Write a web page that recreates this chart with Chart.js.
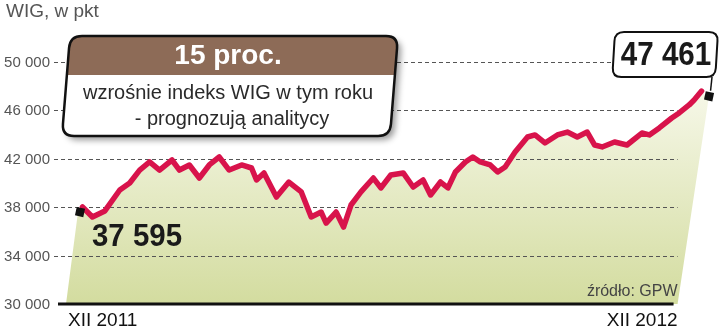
<!DOCTYPE html>
<html>
<head>
<meta charset="utf-8">
<script src="https://cdn.jsdelivr.net/npm/chart.js@4"></script>
<style>
  html, body { margin: 0; padding: 0; background: #fff; }
  #wrap { width: 720px; height: 334px; position: relative; }
</style>
</head>
<body>
<div id="wrap"><canvas id="chart" width="720" height="334"></canvas></div>
<script>
// WIG, XII 2011 - XII 2012

// session number (0 = start of XII 2011, 250 = XII 2012)
const days = [1, 5, 10, 16, 20, 24, 28, 32, 37, 40, 44, 48, 52, 56, 60, 65, 69, 71, 74, 79,
  84, 89, 93, 97, 99, 103, 106, 109, 113, 118, 121, 125, 130, 134, 138, 141, 145, 148, 151, 155,
  158, 161, 165, 168, 171, 175, 180, 183, 187, 192, 196, 200, 204, 207, 210, 215, 220, 226, 229, 233,
  238, 241, 245, 247, 250];
const wig = [38020, 37190, 37690, 39420, 40000, 41070, 41740, 41070, 41900, 41070,
  41490, 40410, 41490, 42150, 41070, 41490, 41240, 40250, 40830, 38840,
  40080, 39260, 37190, 37600, 36690, 37600, 36360, 38180, 39260, 40410,
  39590, 40660, 40830, 39670, 40250, 39010, 40080, 39590, 40910, 41740,
  42150, 41740, 41490, 40910, 41320, 42560, 43800, 43970, 43310, 43970,
  44210, 43800, 44210, 43140, 42980, 43390, 43140, 44130, 43970, 44550,
  45370, 45790, 46450, 46860, 47600];

const yTicks = [30000, 34000, 38000, 42000, 46000, 50000];
const xLabels = ["XII 2011", "XII 2012"];
const startValue = 37595;
const endValue = 47461;
const firstDay = 0;
const lastDay = 250;

function fmt(v) {
  return String(v).replace(/\B(?=(\d{3})+(?!\d))/g, ' ');
}

function roundRect(ctx, x, y, w, h, r) {
  ctx.beginPath();
  ctx.moveTo(x + r, y);
  ctx.lineTo(x + w - r, y);
  ctx.quadraticCurveTo(x + w, y, x + w, y + r);
  ctx.lineTo(x + w, y + h - r);
  ctx.quadraticCurveTo(x + w, y + h, x + w - r, y + h);
  ctx.lineTo(x + r, y + h);
  ctx.quadraticCurveTo(x, y + h, x, y + h - r);
  ctx.lineTo(x, y + r);
  ctx.quadraticCurveTo(x, y, x + r, y);
  ctx.closePath();
}

// background: green area, dashed grid, y labels, baseline
const backdrop = {
  id: 'backdrop',
  beforeDatasetsDraw(chart) {
    const ctx = chart.ctx;
    const xs = chart.scales.x, ys = chart.scales.y;
    const bottom = ys.getPixelForValue(30000);
    const pts = chart.getDatasetMeta(0).data;

    // green area under the line
    ctx.save();
    const grad = ctx.createLinearGradient(0, 80, 0, bottom);
    grad.addColorStop(0, '#f8f9ec');
    grad.addColorStop(1, '#d3dc9f');
    ctx.fillStyle = grad;
    ctx.beginPath();
    ctx.moveTo(xs.getPixelForValue(firstDay) - 14, bottom);
    ctx.lineTo(xs.getPixelForValue(firstDay) - 2, ys.getPixelForValue(startValue));
    pts.forEach(p => ctx.lineTo(p.x, p.y));
    ctx.lineTo(xs.getPixelForValue(lastDay) + 7, ys.getPixelForValue(endValue) + 6);
    ctx.lineTo(xs.getPixelForValue(lastDay) - 24, bottom);
    ctx.closePath();
    ctx.fill();
    ctx.restore();

    // dashed grid + labels
    ctx.save();
    ctx.strokeStyle = '#555';
    ctx.lineWidth = 1;
    ctx.setLineDash([4, 3]);
    ctx.font = '15px "Liberation Sans", Arial, sans-serif';
    ctx.fillStyle = '#555';
    ctx.textAlign = 'right';
    ctx.textBaseline = 'middle';
    yTicks.forEach(v => {
      const y = Math.round(ys.getPixelForValue(v)) + 0.5;
      if (v > 30000) {
        ctx.beginPath();
        ctx.moveTo(54, y);
        ctx.lineTo(xs.getPixelForValue(lastDay) - 24, y);
        ctx.stroke();
      }
      ctx.fillText(fmt(v), 50, y);
    });
    ctx.restore();

    // baseline
    ctx.save();
    ctx.strokeStyle = '#111';
    ctx.lineWidth = 3;
    ctx.beginPath();
    ctx.moveTo(58, bottom);
    ctx.lineTo(xs.getPixelForValue(lastDay) - 28, bottom);
    ctx.stroke();
    ctx.restore();
  }
};

// titles, boxes, value labels
const notes = {
  id: 'notes',
  afterDraw(chart) {
    const ctx = chart.ctx;
    const xs = chart.scales.x, ys = chart.scales.y;
    const bottom = ys.getPixelForValue(30000);

    ctx.save();
    ctx.fillStyle = '#555';
    ctx.font = '19px "Liberation Sans", Arial, sans-serif';
    ctx.textBaseline = 'top';
    ctx.fillText('WIG, w pkt', 6, 2);

    // x labels
    ctx.fillStyle = '#111';
    ctx.textBaseline = 'middle';
    ctx.textAlign = 'left';
    ctx.fillText(xLabels[0], xs.getPixelForValue(firstDay) - 12, bottom + 17);
    ctx.textAlign = 'right';
    ctx.fillText(xLabels[1], xs.getPixelForValue(lastDay) - 24, bottom + 17);

    // source
    ctx.fillStyle = '#444';
    ctx.font = '16px "Liberation Sans", Arial, sans-serif';
    ctx.fillText('źródło: GPW', xs.getPixelForValue(lastDay) - 24, bottom - 12);
    ctx.restore();

    // big note box (slanted)
    const bx = 70, by = 36, bw = 328, bh = 100, k = 0.08;
    ctx.save();
    ctx.transform(1, 0, -k, 1, k * by, 0);
    ctx.shadowColor = 'rgba(0,0,0,0.4)';
    ctx.shadowBlur = 6;
    ctx.shadowOffsetX = 4;
    ctx.shadowOffsetY = 4;
    roundRect(ctx, bx, by, bw, bh, 12);
    ctx.fillStyle = '#fff';
    ctx.fill();
    ctx.shadowColor = 'transparent';
    ctx.save();
    ctx.clip();
    ctx.fillStyle = '#8d6b57';
    ctx.fillRect(bx - 5, by - 5, bw + 10, 39 + 5);
    ctx.restore();
    roundRect(ctx, bx, by, bw, bh, 12);
    ctx.strokeStyle = '#111';
    ctx.lineWidth = 2.5;
    ctx.stroke();
    ctx.restore();

    ctx.save();
    ctx.textAlign = 'center';
    ctx.textBaseline = 'middle';
    ctx.fillStyle = '#fff';
    ctx.font = 'bold 28px "Liberation Sans", Arial, sans-serif';
    ctx.fillText('15 proc.', 228, 56);
    ctx.fillStyle = '#2a2a2a';
    ctx.font = '20px "Liberation Sans", Arial, sans-serif';
    ctx.fillText('wzrośnie indeks WIG w tym roku', 228, 93);
    ctx.fillText('- prognozują analitycy', 232, 119);
    ctx.restore();

    // end value box
    const ex = 615, ey = 32, ew = 103, eh = 45;
    const mx = xs.getPixelForValue(lastDay) + 9, my = ys.getPixelForValue(endValue);
    ctx.save();
    ctx.strokeStyle = '#111';
    ctx.lineWidth = 1.5;
    ctx.beginPath();
    ctx.moveTo(ex + ew - 6, ey + eh);
    ctx.lineTo(mx, my - 2);
    ctx.stroke();
    ctx.transform(1, 0, -0.06, 1, 0.06 * ey, 0);
    roundRect(ctx, ex, ey, ew, eh, 9);
    ctx.fillStyle = '#fff';
    ctx.fill();
    ctx.lineWidth = 2;
    ctx.stroke();
    ctx.restore();

    ctx.save();
    ctx.fillStyle = '#1a1a1a';
    ctx.textBaseline = 'middle';
    ctx.font = 'bold 34px "Liberation Sans", Arial, sans-serif';
    ctx.translate(666, 56);
    ctx.scale(0.87, 1);
    ctx.textAlign = 'center';
    ctx.fillText(fmt(endValue), 0, 0);
    ctx.restore();

    ctx.save();
    ctx.fillStyle = '#1a1a1a';
    ctx.textBaseline = 'middle';
    ctx.font = 'bold 32px "Liberation Sans", Arial, sans-serif';
    ctx.translate(92, 237);
    ctx.scale(0.92, 1);
    ctx.textAlign = 'left';
    ctx.fillText(fmt(startValue), 0, 0);
    ctx.restore();
  }
};

const chart = new Chart(document.getElementById('chart').getContext('2d'), {
  type: 'line',
  data: {
    datasets: [{
      label: 'WIG',
      data: days.map((d, i) => ({ x: d, y: wig[i] })),
      borderColor: '#d8134b',
      borderWidth: 5.5,
      borderJoinStyle: 'round',
      borderCapStyle: 'round',
      pointRadius: 0,
      tension: 0,
      fill: false,
      clip: false,
      order: 2
    }, {
      type: 'scatter',
      label: 'marks',
      data: [{ x: firstDay, y: startValue }, { x: lastDay + 3, y: endValue - 300 }],
      pointStyle: 'rect',
      pointRadius: 6,
      rotation: 12,
      backgroundColor: '#111',
      borderColor: '#111',
      borderWidth: 0,
      clip: false,
      order: 1
    }]
  },
  options: {
    responsive: false,
    animation: false,
    layout: { padding: { left: 80, right: 0, top: 62, bottom: 30 } },
    scales: {
      x: { type: 'linear', min: firstDay, max: lastDay + 5, display: false },
      y: { min: 30000, max: 50000, display: false }
    },
    plugins: {
      legend: { display: false },
      tooltip: { enabled: false }
    }
  },
  plugins: [backdrop, notes]
});
</script>
</body>
</html>
